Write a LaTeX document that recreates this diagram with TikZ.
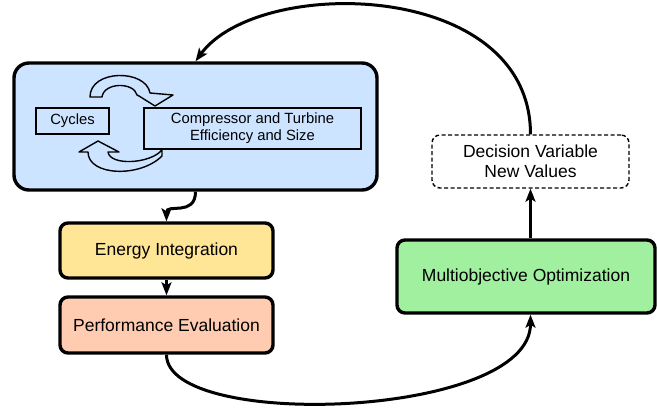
\documentclass[tikz,border=0pt]{standalone}
\usepackage{fontspec}
\setmainfont{Liberation Sans}
\usetikzlibrary{arrows.meta}
\definecolor{boxblue}{RGB}{204,228,255}
\definecolor{boxyellow}{RGB}{255,230,150}
\definecolor{boxsalmon}{RGB}{255,204,178}
\definecolor{boxgreen}{RGB}{160,240,160}
\begin{document}
\begin{tikzpicture}[x=1pt,y=-1pt,
  box/.style={draw=black, line width=3.4pt, rounded corners=8pt, align=center, inner sep=0pt,
    font=\fontsize{17.5}{20}\selectfont},
  innerbox/.style={draw=black, line width=1.4pt, fill=boxblue, align=center, inner sep=0pt,
    font=\fontsize{14.8}{17}\selectfont},
  blockarrow/.style={draw=black, line width=1.4pt, fill=boxblue, line join=round},
  conn/.style={line width=3pt, -{Stealth[length=13pt,width=10pt,inset=3pt]}}]
\useasboundingbox (0,0) rectangle (657,410);

\node[box, fill=boxblue, rounded corners=15pt, minimum width=363pt, minimum height=127pt] (big) at (195.5,126.5) {};

% curved block arrows
\draw[blockarrow] (90,97) .. controls (90,69) and (146,69) .. (150,93)
  -- (173,95) -- (155,106) -- (139,96) -- (137,95)
  .. controls (134,82) and (104,82) .. (102,97) -- cycle;
\draw[blockarrow] (98,141) -- (119,152) -- (108,152)
  .. controls (110,166) and (150,164) .. (162,150)
  -- (162,156)
  .. controls (140,178) and (88,176) .. (88,152) -- (79,152) -- cycle;

\node[innerbox, minimum width=73pt, minimum height=26pt] (cyc) at (72.5,121) {Cycles};
\node[innerbox, minimum width=217pt, minimum height=41pt] (comp) at (252.5,128.5) {Compressor and Turbine\\Efficiency and Size};

\node[box, fill=boxyellow, minimum width=213pt, minimum height=55pt] (energy) at (166.5,250.5) {Energy Integration};
\node[box, fill=boxsalmon, minimum width=213pt, minimum height=56pt] (perf) at (166.5,325) {Performance Evaluation};
\node[box, fill=boxgreen, minimum width=258pt, minimum height=73pt] (multi) at (526,276.5) {Multiobjective Optimization};
\node[box, draw=black, line width=1.4pt, dash pattern=on 4pt off 2.5pt, minimum width=197pt, minimum height=53pt] (dec) at (530.5,161.5) {Decision Variable\\New Values};

\coordinate (mtop) at (dec.south |- multi.north);
\coordinate (mbot) at (dec.south |- multi.south);

\draw[conn] (big.south) .. controls ++(0,25) and ++(0,-18) .. (energy.north);
\draw[conn] (energy.south) -- (perf.north);
\draw[conn] (perf.south) .. controls ++(0,76) and ++(0,104) .. (mbot);
\draw[conn] (mtop) -- (dec.south);
\draw[conn] (dec.north) .. controls ++(0,-155) and ++(63,-86) .. (big.north);
\end{tikzpicture}
\end{document}
